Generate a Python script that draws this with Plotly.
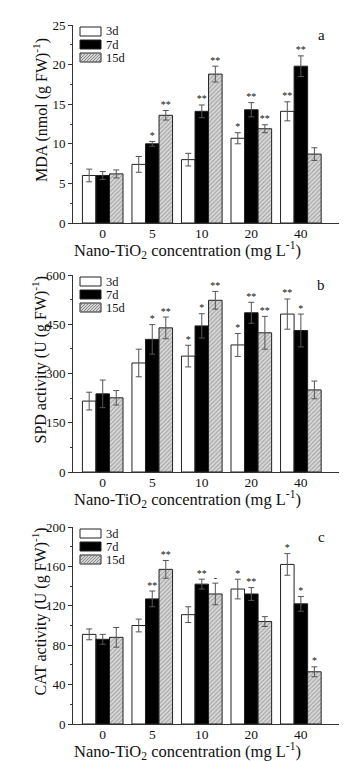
import plotly.graph_objects as go

categories = ["0", "5", "10", "20", "40"]
series_names = ["3d", "7d", "15d"]

# Panel a: MDA
mda_3d = [6.0, 7.4, 8.0, 10.7, 14.1]
mda_7d = [6.0, 10.0, 14.1, 14.3, 19.8]
mda_15d = [6.2, 13.6, 18.8, 11.9, 8.7]
mda_3d_err = [0.8, 1.0, 0.8, 0.7, 1.2]
mda_7d_err = [0.5, 0.3, 0.8, 0.9, 1.3]
mda_15d_err = [0.5, 0.6, 1.0, 0.5, 0.8]
mda_3d_sig = ["", "", "", "*", "**"]
mda_7d_sig = ["", "*", "**", "**", "**"]
mda_15d_sig = ["", "**", "**", "**", ""]

# Panel b: SPD
spd_3d = [216, 332, 353, 387, 481]
spd_7d = [238, 404, 445, 485, 431]
spd_15d = [226, 439, 523, 424, 250]
spd_3d_err = [27, 42, 33, 35, 46]
spd_7d_err = [42, 45, 37, 32, 50]
spd_15d_err = [22, 33, 27, 50, 27]
spd_3d_sig = ["", "", "*", "*", "**"]
spd_7d_sig = ["", "*", "*", "**", "*"]
spd_15d_sig = ["", "**", "**", "**", ""]

# Panel c: CAT
cat_3d = [91, 100, 111, 137, 162]
cat_7d = [86, 127, 142, 132, 122]
cat_15d = [88, 157, 132, 104, 53]
cat_3d_err = [5.5, 6.5, 8, 10, 11]
cat_7d_err = [5, 8, 5, 6.5, 7.5]
cat_15d_err = [10, 9, 11, 5, 5]
cat_3d_sig = ["", "", "", "*", "*"]
cat_7d_sig = ["", "**", "**", "**", "*"]
cat_15d_sig = ["", "**", "-", "", "*"]

W, H = 358, 761
panels = [
    dict(vals=[mda_3d, mda_7d, mda_15d], errs=[mda_3d_err, mda_7d_err, mda_15d_err],
         sigs=[mda_3d_sig, mda_7d_sig, mda_15d_sig], ymax=25, dtick=5,
         ytitle="MDA (nmol (g FW)<sup>-1</sup>)", letter="a", top=17, bot=215),
    dict(vals=[spd_3d, spd_7d, spd_15d], errs=[spd_3d_err, spd_7d_err, spd_15d_err],
         sigs=[spd_3d_sig, spd_7d_sig, spd_15d_sig], ymax=600, dtick=150,
         ytitle="SPD activity (U (g FW)<sup>-1</sup>)", letter="b", top=267, bot=464),
    dict(vals=[cat_3d, cat_7d, cat_15d], errs=[cat_3d_err, cat_7d_err, cat_15d_err],
         sigs=[cat_3d_sig, cat_7d_sig, cat_15d_sig], ymax=200, dtick=40,
         ytitle="CAT activity (U (g FW)<sup>-1</sup>)", letter="c", top=519, bot=716),
]

FONT = "Liberation Serif, Times New Roman, serif"
TXT = "#111"
fills = ["white", "black", "white"]
patterns = [dict(shape=""), dict(shape=""),
            dict(shape="/", fgcolor="#6a6a6a", bgcolor="#d8d8d8", size=3, solidity=0.35)]


def py(px):
    return 1 - px / H


def pxx(px):
    return px / W


fig = go.Figure()
xdom = [pxx(65), pxx(331)]
annotations = []
shapes = []
layout = {}

for p_i, p in enumerate(panels):
    n = "" if p_i == 0 else str(p_i + 1)
    xa, ya = "x" + n, "y" + n
    for s_i, name in enumerate(series_names):
        fig.add_trace(go.Bar(
            x=categories, y=p["vals"][s_i], name=name,
            xaxis=xa, yaxis=ya, offsetgroup=str(s_i), showlegend=False,
            marker=dict(color=fills[s_i], line=dict(color="#222", width=1),
                        pattern=patterns[s_i]),
            error_y=dict(type="data", array=p["errs"][s_i], color="#555",
                         thickness=1, width=3),
        ))
        rows = [(c, v + e, s) for c, v, e, s in
                zip(categories, p["vals"][s_i], p["errs"][s_i], p["sigs"][s_i]) if s]
        fig.add_trace(go.Scatter(
            x=[r[0] for r in rows], y=[r[1] for r in rows], text=[r[2] for r in rows],
            mode="text", textposition="top center",
            textfont=dict(family=FONT, size=10, color=TXT),
            xaxis=xa, yaxis=ya, offsetgroup=str(s_i), showlegend=False,
            hoverinfo="skip", cliponaxis=False,
        ))
    layout["xaxis" + n] = dict(
        domain=xdom, anchor=ya, type="category", categoryorder="array",
        categoryarray=categories, range=[-0.6, 4.77],
        showline=True, linecolor="#333", linewidth=1, ticks="", ticklen=0,
        ticklabelstandoff=-2,
        tickfont=dict(family=FONT, size=13.5, color=TXT), automargin=False,
        showgrid=False, zeroline=False, fixedrange=True,
    )
    layout["yaxis" + n] = dict(
        domain=[py(p["bot"]), py(p["top"])], anchor=xa, range=[0, p["ymax"]],
        dtick=p["dtick"], automargin=False,
        showline=True, linecolor="#333", linewidth=1,
        ticks="outside", ticklen=4, tickcolor="#333",
        minor=dict(ticks="outside", ticklen=2, dtick=p["dtick"] / 2, tickcolor="#333"),
        tickfont=dict(family=FONT, size=13, color=TXT),
        showgrid=False, zeroline=False, fixedrange=True,
    )
    # axis titles
    annotations.append(dict(
        text=p["ytitle"], x=pxx(32), y=py((p["top"] + p["bot"]) / 2 - 14),
        xref="paper", yref="paper", textangle=-90, showarrow=False,
        xanchor="center", yanchor="middle",
        font=dict(family=FONT, size=16, color=TXT),
    ))
    annotations.append(dict(
        text="Nano-TiO<sub>2</sub> concentration (mg L<sup>-1</sup>)",
        x=pxx(179), y=py(p["bot"] + 27), xref="paper", yref="paper",
        showarrow=False, xanchor="center", yanchor="middle",
        font=dict(family=FONT, size=16.5, color=TXT),
    ))
    annotations.append(dict(
        text=p["letter"], x=pxx(313), y=py(p["top"] + 10), xref="paper", yref="paper",
        showarrow=False, xanchor="center", yanchor="middle",
        font=dict(family=FONT, size=15, color=TXT),
    ))
    # legend (drawn manually for compact spacing)
    lx0, lx1 = 72, 93
    for s_i, name in enumerate(series_names):
        yt = p["top"] + 2 + s_i * 13
        yb = yt + 9
        if s_i == 0:
            shapes.append(dict(type="rect", xref="paper", yref="paper",
                               x0=pxx(lx0), x1=pxx(lx1), y0=py(yb), y1=py(yt),
                               fillcolor="white", line=dict(color="#222", width=1)))
        elif s_i == 1:
            shapes.append(dict(type="rect", xref="paper", yref="paper",
                               x0=pxx(lx0), x1=pxx(lx1), y0=py(yb), y1=py(yt),
                               fillcolor="black", line=dict(color="#222", width=1)))
        else:
            shapes.append(dict(type="rect", xref="paper", yref="paper",
                               x0=pxx(lx0), x1=pxx(lx1), y0=py(yb), y1=py(yt),
                               fillcolor="#d4d4d4", line=dict(color="#222", width=1)))
            path = ""
            for k in range(0, 32, 3):
                xa0 = lx0 + k - 9
                xa1 = xa0 + 9
                x0c, y0c = xa0, yb
                x1c, y1c = xa1, yt
                if x0c < lx0:
                    y0c = yb - (lx0 - x0c)
                    x0c = lx0
                if x1c > lx1:
                    y1c = yt + (x1c - lx1)
                    x1c = lx1
                if x1c <= x0c:
                    continue
                path += f"M{pxx(x0c)},{py(y0c)} L{pxx(x1c)},{py(y1c)} "
            shapes.append(dict(type="path", xref="paper", yref="paper", path=path,
                               line=dict(color="#777", width=0.8)))
        annotations.append(dict(
            text=name, x=pxx(97), y=py((yt + yb) / 2), xref="paper", yref="paper",
            showarrow=False, xanchor="left", yanchor="middle", borderpad=0,
            font=dict(family=FONT, size=12.5, color=TXT),
        ))

fig.update_layout(
    width=W, height=H, margin=dict(l=0, r=0, t=0, b=0, autoexpand=False),
    paper_bgcolor="white", plot_bgcolor="white", showlegend=False,
    barmode="group", bargap=0.18, bargroupgap=0,
    scattermode="group", scattergap=0.18,
    annotations=annotations, shapes=shapes, **layout,
)

fig.write_html("out.html")
